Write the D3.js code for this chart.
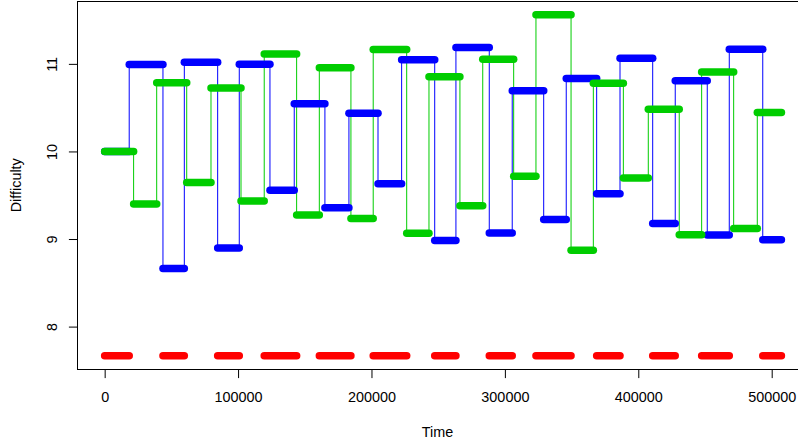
<head>
    <meta charset="utf-8">
    <style> body { margin: 0; background: #ffffff; } </style>
    <script src="https://d3js.org/d3.v7.min.js"></script>
</head>
<body>
    <div id="chart"></div>
    <script>

        // step series: change times (last one = end) and levels
        var greenTimes = [0, 21700, 39000, 61500, 79700, 102200, 119600, 143900, 160900, 184600, 201300, 226400, 243100,
                          266300, 283400, 306600, 323300, 349600, 366300, 388800, 407500, 430700, 447500, 471500, 489200, 507300];
        var greenLevels = [10.00, 9.40, 10.785, 9.646, 10.725, 9.435, 11.113, 9.275, 10.957, 9.233, 11.164, 9.067, 10.854,
                           9.380, 11.052, 9.717, 11.562, 8.872, 10.778, 9.697, 10.483, 9.050, 10.908, 9.119, 10.445];

        var blueTimes = [0, 18400, 43700, 59700, 84700, 100900, 123900, 142100, 165100, 183100, 204900, 222600, 247400,
                         263300, 288300, 305500, 329100, 346000, 368800, 386300, 410800, 427700, 451700, 468200, 493300, 507300];
        var blueLevels = [10.00, 10.993, 8.664, 11.018, 8.898, 10.995, 9.558, 10.545, 9.357, 10.437, 9.631, 11.048, 8.984,
                          11.187, 9.070, 10.693, 9.224, 10.833, 9.518, 11.064, 9.176, 10.808, 9.047, 11.168, 8.992];

        var redLevel = 7.666;
        var redStarts = [0, 43700, 84700, 119600, 160900, 201300, 247400, 288300, 323300, 368800, 410800, 447500, 493300];
        var redEnds = [18400, 59700, 100900, 143900, 184600, 226400, 263300, 305500, 349600, 386300, 427700, 468200, 507300];

        var xTicks = [0, 100000, 200000, 300000, 400000, 500000];
        var yTicks = [8, 9, 10, 11];

        var W = 798, H = 446;
        var pLeft = 77.6, pRight = 808.5, pTop = 1, pBottom = 369.5;

        function segs(times, levels) {
            return levels.map(function(v, i) { return {x0: times[i], x1: times[i + 1], y: v}; });
        }
        function steps(times, levels) {
            return times.map(function(t, i) { return {t: t, v: levels[Math.min(i, levels.length - 1)]}; });
        }

        var green = segs(greenTimes, greenLevels),
            blue = segs(blueTimes, blueLevels),
            red = redStarts.map(function(s, i) { return {x0: s, x1: redEnds[i], y: redLevel}; });

        // R style 4% padding of the data range
        var xExt = d3.extent(greenTimes.concat(blueTimes)),
            yExt = d3.extent(greenLevels.concat(blueLevels, [redLevel]));
        var xPad = (xExt[1] - xExt[0]) * 0.04,
            yPad = (yExt[1] - yExt[0]) * 0.04;

        var x = d3.scaleLinear().domain([xExt[0] - xPad, xExt[1] + xPad]).range([pLeft, pRight]);
        var y = d3.scaleLinear().domain([yExt[0] - yPad, yExt[1] + yPad]).range([pBottom, pTop]);

        var svg = d3.select("#chart").append("svg")
            .attr("width", W)
            .attr("height", H)
            .style("font-family", "'Liberation Sans', Arial, sans-serif");

        svg.append("rect").attr("width", W).attr("height", H).attr("fill", "#ffffff");

        var plot = svg.append("g");

        function addStep(times, levels, col) {
            plot.append("path")
                .datum(steps(times, levels))
                .attr("fill", "none")
                .attr("stroke", col)
                .attr("stroke-width", 1)
                .attr("d", d3.line().curve(d3.curveStepAfter).x(d => x(d.t)).y(d => y(d.v)));
        }

        function addBars(data, col) {
            plot.append("g").selectAll("line")
                .data(data)
                .join("line")
                .attr("x1", d => x(d.x0))
                .attr("x2", d => x(d.x1))
                .attr("y1", d => y(d.y))
                .attr("y2", d => y(d.y))
                .attr("stroke", col)
                .attr("stroke-width", 7.5)
                .attr("stroke-linecap", "round");
        }

        addStep(greenTimes, greenLevels, "#00cd00");
        addStep(blueTimes, blueLevels, "#0000ff");
        addBars(blue, "#0000ff");
        addBars(green, "#00cd00");
        addBars(red, "#ff0000");

        // box
        svg.append("rect")
            .attr("x", 77.5).attr("y", 1.5)
            .attr("width", pRight - 77.5).attr("height", pBottom - 1.5)
            .attr("fill", "none")
            .attr("stroke", "#000000")
            .attr("stroke-width", 1);

        var xx = svg.append("g")
            .attr("class", "ax")
            .attr("transform", "translate(0," + pBottom + ")")
            .call(d3.axisBottom(x).tickValues(xTicks).tickSize(8.6).tickPadding(14).tickFormat(d3.format("d")));

        var yx = svg.append("g")
            .attr("class", "ax")
            .attr("transform", "translate(" + 77.5 + ",0)")
            .call(d3.axisLeft(y).tickValues(yTicks).tickSize(8.6).tickFormat(d3.format("d")));

        svg.selectAll(".ax path").remove();
        svg.selectAll(".ax line").attr("stroke", "#000000");
        svg.selectAll(".ax text")
            .attr("font-family", "'Liberation Sans', Arial, sans-serif")
            .attr("font-size", "14.4px")
            .attr("fill", "#000000");

        xx.selectAll("text").attr("dy", null).attr("y", 32.2);

        // tick groups are already translated to y(d)
        yx.selectAll("text")
            .attr("x", null).attr("dy", null)
            .attr("text-anchor", "middle")
            .attr("transform", "translate(" + (56.5 - 77.5) + ",0) rotate(-90)")
            .attr("y", 0);

        svg.append("text")
            .attr("x", (pLeft + pRight) / 2 - 5.5)
            .attr("y", 437)
            .attr("text-anchor", "middle")
            .attr("font-size", "14.4px")
            .text("Time");

        svg.append("text")
            .attr("transform", "translate(20.5," + ((pTop + pBottom) / 2) + ") rotate(-90)")
            .attr("text-anchor", "middle")
            .attr("font-size", "14.4px")
            .text("Difficulty");

    </script>
</body>
